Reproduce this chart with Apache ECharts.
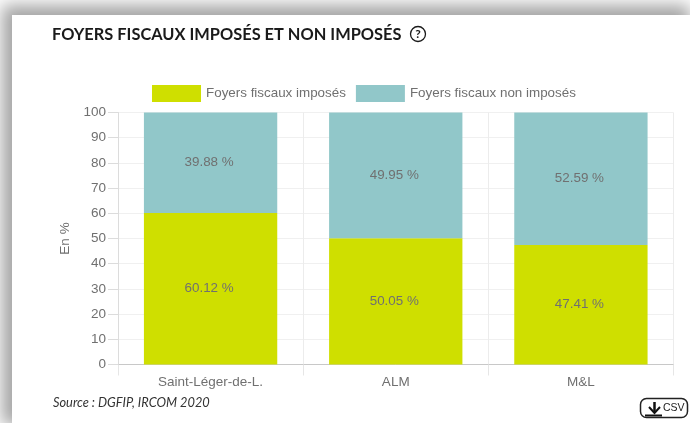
<!DOCTYPE html>
<html>
<head>
<meta charset="utf-8">
<style>
html, body { margin: 0; padding: 0; width: 690px; height: 423px; overflow: hidden; background: #fff; }
#frame { position: absolute; left: 0; top: 0; width: 690px; height: 423px; overflow: hidden; }
#shadow { position: absolute; left: 12px; top: 15px; width: 668px; height: 400px; background: #fff; box-shadow: 0 0 16px 10px #a4a4a4; }
#card { position: absolute; left: 12px; top: 15px; width: 678px; height: 408px; background: #fff; }
#main { position: absolute; left: 0; top: 0; width: 690px; height: 423px; }
</style>
<script src="https://cdn.jsdelivr.net/npm/echarts@6/dist/echarts.min.js"></script>
</head>
<body>
<div id="frame"><div id="shadow"></div><div id="card"></div></div>
<div id="main"></div>
<script>
const categories = ['Saint-Léger-de-L.', 'ALM', 'M&L'];
const imposes = [60.12, 50.05, 47.41];
const nonImposes = [39.88, 49.95, 52.59];
const yTicks = { min: 0, max: 100, interval: 10 };

const textFont = '"Liberation Sans", Arial, sans-serif';
const titleFont = 'Lato, sans-serif';

var myChart = echarts.init(document.getElementById('main'), null, { renderer: 'canvas' });

const barLabel = {
	show: true,
	position: 'inside',
	formatter: '{c} %',
	color: '#707070',
	fontFamily: textFont,
	fontSize: 13.4,
	padding: [4, 3, 0, 0]
};

var option = {
	backgroundColor: 'transparent',
	animation: false,
	title: [
		{
			text: 'FOYERS FISCAUX IMPOSÉS ET NON IMPOSÉS',
			left: 52,
			top: 27,
			padding: 0,
			textStyle: { fontFamily: titleFont, fontWeight: 'bold', fontSize: 16.4, color: '#1a1a1a' }
		},
		{
			text: 'Source : DGFIP, IRCOM 2020',
			left: 53,
			top: 396,
			padding: 0,
			textStyle: { fontFamily: titleFont, fontStyle: 'italic', fontWeight: 'normal', fontSize: 12.8, color: '#333' }
		}
	],
	legend: {
		left: 152,
		top: 85,
		padding: 0,
		icon: 'rect',
		itemWidth: 49,
		itemHeight: 17,
		itemGap: 10,
		selectedMode: false,
		textStyle: { fontFamily: textFont, fontSize: 13.4, color: '#707070', padding: [4, 0, 0, 0] }
	},
	grid: { left: 118, right: 16.5, top: 112.5, bottom: 58.5 },
	xAxis: {
		type: 'category',
		data: categories,
		axisLine: { lineStyle: { color: '#c8c8c8', width: 1 } },
		axisTick: { show: true, length: 11, lineStyle: { color: '#e6e6e6' } },
		splitLine: { show: true, lineStyle: { color: '#ececec' } },
		axisLabel: { color: '#707070', fontFamily: textFont, fontSize: 13.5, margin: 11 }
	},
	yAxis: {
		type: 'value',
		min: yTicks.min,
		max: yTicks.max,
		interval: yTicks.interval,
		name: 'En %',
		nameLocation: 'middle',
		nameGap: 45,
		nameTextStyle: { color: '#707070', fontFamily: textFont, fontSize: 13.5 },
		axisLine: { show: true, lineStyle: { color: '#dcdcdc' } },
		axisTick: { show: true, length: 10, lineStyle: { color: '#dcdcdc' } },
		splitLine: { show: true, lineStyle: { color: '#f0f0f0' } },
		axisLabel: { color: '#707070', fontFamily: textFont, fontSize: 13.5, margin: 12, padding: [4, 0, 0, 0] }
	},
	series: [
		{
			name: 'Foyers fiscaux imposés',
			type: 'bar',
			stack: 'total',
			barWidth: '72%',
			data: imposes,
			itemStyle: { color: '#cfdf00' },
			label: barLabel
		},
		{
			name: 'Foyers fiscaux non imposés',
			type: 'bar',
			stack: 'total',
			barWidth: '72%',
			data: nonImposes,
			itemStyle: { color: '#91c7c9' },
			label: barLabel
		}
	],
	graphic: [
		{ type: 'circle', shape: { cx: 418, cy: 34, r: 7.5 }, style: { fill: 'none', stroke: '#1a1a1a', lineWidth: 1.3 } },
		{ type: 'text', style: { x: 418, y: 34, text: '?', align: 'center', verticalAlign: 'middle', fill: '#1a1a1a', font: 'bold 12px ' + titleFont } },
		{ type: 'rect', shape: { x: 640.5, y: 398.5, width: 47, height: 19, r: 6 }, style: { fill: '#fff', stroke: '#222', lineWidth: 1.5 } },
		{ type: 'polyline', shape: { points: [[654.5, 402], [654.5, 412]] }, style: { stroke: '#111', lineWidth: 2.5, fill: 'none' } },
		{ type: 'polyline', shape: { points: [[649, 407], [654.5, 413], [660, 407]] }, style: { stroke: '#111', lineWidth: 2, fill: 'none' } },
		{ type: 'line', shape: { x1: 645, y1: 415.5, x2: 662, y2: 415.5 }, style: { stroke: '#111', lineWidth: 2 } },
		{ type: 'text', style: { x: 663, y: 408.5, text: 'CSV', verticalAlign: 'middle', fill: '#222', font: '10.5px ' + textFont } }
	]
};

option && myChart.setOption(option);
</script>
</body>
</html>
